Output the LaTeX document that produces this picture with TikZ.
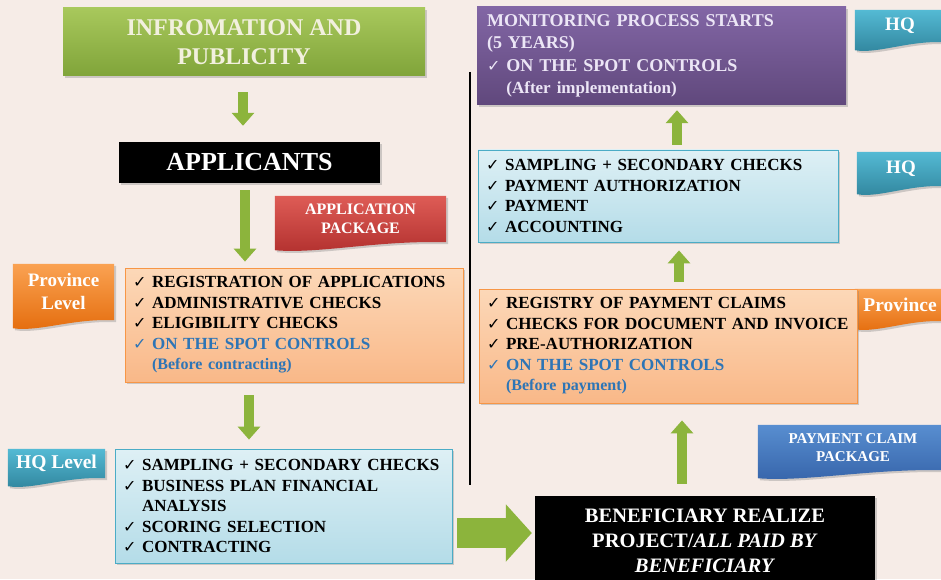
\documentclass[tikz,border=0pt]{standalone}
\usepackage{fontspec}
\setmainfont{Liberation Serif}
\newfontfamily\checkfont{DejaVu Sans}
\usetikzlibrary{positioning,arrows.meta,backgrounds,calc,shadows}
\definecolor{bgpink}{RGB}{246,236,231}
\definecolor{arrowgreen}{RGB}{140,180,60}
\definecolor{bluetext}{RGB}{46,117,182}
\definecolor{creamtext}{RGB}{242,240,222}
\definecolor{lilactext}{RGB}{236,230,246}
\tikzstyle{shadowed}=[drop shadow={opacity=0.35, shadow xshift=2pt, shadow yshift=-2pt}]
\tikzstyle{greenbox}=[shadowed, top color={rgb,255:red,168;green,200;blue,92}, bottom color={rgb,255:red,128;green,164;blue,58}, text=creamtext, align=center, font=\bfseries\fontsize{24}{29}\selectfont]
\tikzstyle{blackbox}=[shadowed, fill=black, text=white, align=center]
\tikzstyle{orangebox}=[shadowed, draw={rgb,255:red,247;green,150;blue,70}, line width=0.8pt, top color={rgb,255:red,252;green,216;blue,184}, bottom color={rgb,255:red,249;green,184;blue,136}, align=left, inner xsep=8pt, font=\bfseries\fontsize{17}{20.5}\selectfont]
\tikzstyle{bluebox}=[shadowed, draw={rgb,255:red,75;green,172;blue,198}, line width=0.8pt, top color={rgb,255:red,222;green,240;blue,245}, bottom color={rgb,255:red,180;green,220;blue,232}, align=left, inner xsep=8pt, font=\bfseries\fontsize{17}{20.5}\selectfont]
\tikzstyle{purplebox}=[shadowed, top color={rgb,255:red,130;green,102;blue,165}, bottom color={rgb,255:red,96;green,72;blue,124}, text=lilactext, align=left, inner xsep=10pt, font=\bfseries\fontsize{18}{22.5}\selectfont]
\tikzstyle{tagtext}=[text=white, align=center, inner sep=0pt]
\tikzstyle{redtag}=[shadowed, top color={rgb,255:red,222;green,92;blue,86}, bottom color={rgb,255:red,178;green,48;blue,46}]
\tikzstyle{orangetag}=[shadowed, top color={rgb,255:red,250;green,162;blue,82}, bottom color={rgb,255:red,228;green,108;blue,12}]
\tikzstyle{tealtag}=[shadowed, top color={rgb,255:red,84;green,186;blue,212}, bottom color={rgb,255:red,48;green,132;blue,156}]
\tikzstyle{bluetag}=[shadowed, top color={rgb,255:red,88;green,142;blue,208}, bottom color={rgb,255:red,54;green,100;blue,170}]
\tikzstyle{flow}=[draw=arrowgreen, line width=10pt, -{Triangle[width=22pt,length=13pt]}]
\tikzstyle{bigflow}=[draw=arrowgreen, line width=30pt, -{Triangle[width=56pt,length=26pt]}]
\newcommand{\ck}{{\checkfont\fontsize{16}{16}\selectfont ✓}\ }
\newcommand{\ind}{\hphantom{\ck}}

\begin{document}
\begin{tikzpicture}[x=1pt,y=1pt]
    \useasboundingbox (0,0) rectangle (941,579);
    \clip (0,0) rectangle (941,579);

    % left column
    \node[greenbox, minimum width=362pt, minimum height=68pt] (info) at (244,537) {INFROMATION AND\\PUBLICITY};
    \node[blackbox, minimum width=261pt, minimum height=41pt, font=\bfseries\fontsize{26}{30}\selectfont] (appl) at (249.5,416.5) {APPLICANTS};
    \node[tagtext, minimum width=171pt, minimum height=46pt, font=\bfseries\fontsize{16}{19}\selectfont] (pkg) at (360.5,360) {APPLICATION\\PACKAGE};
    \node[tagtext, minimum width=101pt, minimum height=56pt, font=\bfseries\fontsize{19}{23}\selectfont] (provL) at (63.5,287) {Province\\Level};
    \node[orangebox, minimum height=114pt, text width=322pt] (regL) at (294,254)
        {\ck REGISTRATION OF APPLICATIONS\\\ck ADMINISTRATIVE CHECKS\\\ck ELIGIBILITY CHECKS\\\color{bluetext}\ck ON THE SPOT CONTROLS\\\ind{\fontsize{16}{20.5}\selectfont (Before contracting)}};
    \node[tagtext, minimum width=97pt, minimum height=29pt, font=\bfseries\fontsize{19.5}{22}\selectfont] (hqL) at (56.5,115.5) {HQ Level};
    \node[bluebox, minimum height=114pt, text width=321pt] (chkL) at (283.5,73)
        {\ck SAMPLING + SECONDARY CHECKS\\\ck BUSINESS PLAN FINANCIAL\\\ind ANALYSIS\\\ck SCORING SELECTION\\\ck CONTRACTING};

    % right column
    \node[blackbox, minimum width=340pt, minimum height=89pt, font=\bfseries\fontsize{20.5}{25}\selectfont] (benef) at (705,38.5)
        {BENEFICIARY REALIZE\\PROJECT/\textit{ALL PAID BY}\\\textit{BENEFICIARY}};
    \node[tagtext, minimum width=190pt, minimum height=45pt, font=\bfseries\fontsize{15}{18}\selectfont] (claim) at (853,131.5) {PAYMENT CLAIM\\PACKAGE};
    \node[orangebox, minimum height=114pt, text width=362pt] (regR) at (668,233)
        {\ck REGISTRY OF PAYMENT CLAIMS\\\ck CHECKS FOR DOCUMENT AND INVOICE\\\ck PRE-AUTHORIZATION\\\color{bluetext}\ck ON THE SPOT CONTROLS\\\ind{\fontsize{16}{20.5}\selectfont (Before payment)}};
    \node[tagtext, minimum width=90pt, minimum height=32pt, font=\bfseries\fontsize{19.5}{22}\selectfont] (provR) at (900,274) {Province};
    \node[bluebox, minimum height=92pt, text width=344pt] (payR) at (658,383)
        {\ck SAMPLING + SECONDARY CHECKS\\\ck PAYMENT AUTHORIZATION\\\ck PAYMENT\\\ck ACCOUNTING};
    \node[tagtext, minimum width=88pt, minimum height=34pt, font=\bfseries\fontsize{19}{22}\selectfont] (hqM) at (901,410) {HQ};
    \node[purplebox, minimum height=98pt, text width=349pt] (monit) at (661.5,523)
        {MONITORING PROCESS STARTS\\(5 YEARS)\\\ck ON THE SPOT CONTROLS\\\ind{\fontsize{17}{22.5}\selectfont (After implementation)}};
    \node[tagtext, minimum width=90pt, minimum height=32pt, font=\bfseries\fontsize{19}{22}\selectfont] (hqT) at (900,553) {HQ};

    % page colour and wavy tags
    \begin{scope}[on background layer]
    \fill[bgpink] (0,0) rectangle (941,579);
    \foreach \t/\c in {pkg/redtag, provL/orangetag, hqL/tealtag, claim/bluetag, provR/orangetag, hqM/tealtag, hqT/tealtag}
        \path[\c] (\t.north west) -- (\t.north east) -- (\t.south east)
            .. controls ($(\t.south east)!0.4!(\t.south west)+(0,2)$) and ($(\t.south east)!0.75!(\t.south west)+(0,-12)$)
            .. ([yshift=-8pt]\t.south west) -- cycle;
    \end{scope}

    \draw[line width=2.5pt] (470,507) -- (470,94);

    \draw[flow, shorten <=16pt, shorten >=16pt] ([xshift=-1pt]info.south) -- ([xshift=-6.5pt]appl.north);
    \draw[flow, shorten <=7pt, shorten >=6pt] ([xshift=-4.5pt]appl.south) -- ([xshift=-49pt]regL.north);
    \draw[flow, shorten <=13pt, shorten >=9pt] ([xshift=-45pt]regL.south) -- ([xshift=-34.5pt]chkL.north);
    \draw[bigflow, shorten <=5pt, shorten >=3pt] ([yshift=-27pt]chkL.east) -- ([yshift=7.5pt]benef.west);
    \draw[flow, shorten <=12pt, shorten >=17pt] ([xshift=-23pt]benef.north) -- ([xshift=14pt]regR.south);
    \draw[flow, shorten <=7pt, shorten >=8pt] ([xshift=11pt]regR.north) -- ([xshift=21pt]payR.south);
    \draw[flow, shorten <=5pt, shorten >=5pt] ([xshift=19pt]payR.north) -- ([xshift=15.5pt]monit.south);
\end{tikzpicture}
\end{document}
